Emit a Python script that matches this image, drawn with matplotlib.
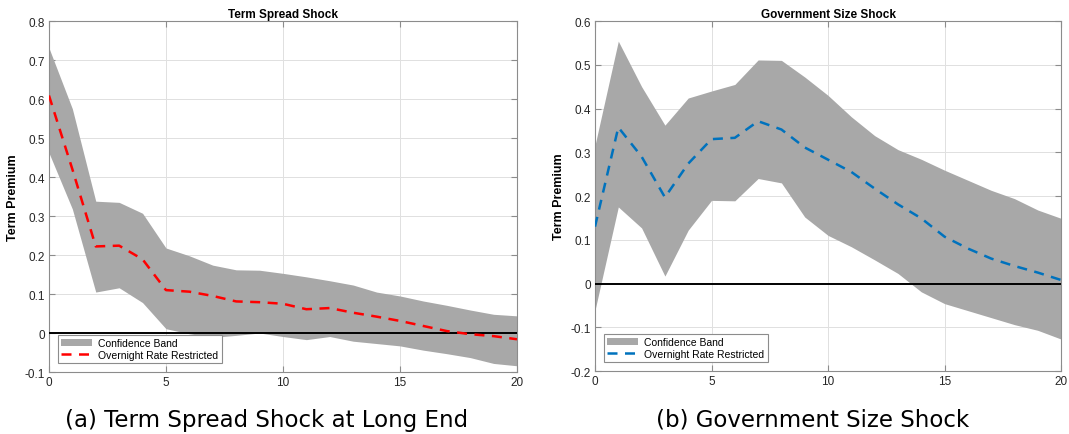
import matplotlib
matplotlib.use("Agg")
import matplotlib.pyplot as plt
import numpy as np

plt.rcParams['font.family'] = ['Liberation Sans', 'DejaVu Sans']

horizon = list(range(21))

# Term spread shock (left panel)
ts_upper = [0.731, 0.575, 0.338, 0.335, 0.307, 0.218, 0.198, 0.174, 0.162, 0.161, 0.153,
            0.144, 0.134, 0.123, 0.105, 0.095, 0.082, 0.071, 0.059, 0.048, 0.044]
ts_lower = [0.462, 0.318, 0.105, 0.116, 0.078, 0.011, -0.002, -0.011, -0.006, 0.0, -0.009,
            -0.017, -0.009, -0.021, -0.027, -0.033, -0.044, -0.053, -0.063, -0.078, -0.084]
ts_mean = [0.609, 0.42, 0.222, 0.224, 0.189, 0.110, 0.106, 0.095, 0.081, 0.079, 0.075,
           0.061, 0.064, 0.052, 0.042, 0.031, 0.018, 0.005, -0.003, -0.008, -0.016]

# Government size shock (right panel)
gs_upper = [0.316, 0.554, 0.450, 0.362, 0.424, 0.440, 0.455, 0.511, 0.510, 0.472, 0.430,
            0.381, 0.338, 0.306, 0.284, 0.259, 0.236, 0.213, 0.194, 0.168, 0.149]
gs_lower = [-0.061, 0.175, 0.127, 0.017, 0.122, 0.190, 0.189, 0.240, 0.230, 0.152, 0.110,
            0.084, 0.054, 0.023, -0.019, -0.046, -0.062, -0.078, -0.094, -0.107, -0.127]
gs_mean = [0.130, 0.357, 0.290, 0.197, 0.274, 0.330, 0.333, 0.371, 0.352, 0.311, 0.283,
           0.255, 0.217, 0.181, 0.149, 0.107, 0.080, 0.057, 0.040, 0.025, 0.008]

band_color = (0.66, 0.66, 0.66)
edge_gray = (0.55, 0.55, 0.55)


def draw_panel(ax, upper, lower, mean, color, title, ylim, yticks):
    ax.fill_between(horizon, lower, upper, color=band_color, linewidth=0,
                    label='Confidence Band', zorder=2)
    ax.plot(horizon, mean, linestyle=(0, (4, 3)), color=color, linewidth=1.8,
            label='Overnight Rate Restricted', zorder=4)
    ax.axhline(0, color='black', linewidth=1.4, zorder=3)
    ax.set_xlim(0, 20)
    ax.set_ylim(*ylim)
    ax.set_xticks([0, 5, 10, 15, 20])
    ax.set_yticks(yticks)
    ax.set_yticklabels([('%g' % v) for v in yticks])
    ax.grid(True, color=(0.88, 0.88, 0.88), linewidth=0.7, zorder=0)
    ax.set_axisbelow(True)
    ax.tick_params(direction='in', top=True, right=True, length=4, labelsize=8.5,
                   color=edge_gray, labelcolor=(0.15, 0.15, 0.15), pad=3)
    for sp in ax.spines.values():
        sp.set_color(edge_gray)
        sp.set_linewidth(0.8)
    ax.set_title(title, fontsize=8.5, fontweight='bold', pad=3)
    ax.set_ylabel('Term Premium', fontsize=9, fontweight='bold', labelpad=4)
    leg = ax.legend(loc='lower left', fontsize=7.5, fancybox=False, framealpha=1,
                    edgecolor=edge_gray, borderpad=0.3, handlelength=3.0,
                    handletextpad=0.6, labelspacing=0.2, borderaxespad=0.85)
    leg.get_frame().set_linewidth(0.8)


fig = plt.figure(figsize=(10.69, 4.35), dpi=100)
ax1 = fig.add_axes([0.0458, 0.1425, 0.4378, 0.8069])
ax2 = fig.add_axes([0.5566, 0.1448, 0.4360, 0.8046])

draw_panel(ax1, ts_upper, ts_lower, ts_mean, 'red', 'Term Spread Shock',
           (-0.1, 0.8), np.round(np.arange(-0.1, 0.81, 0.1), 1))
draw_panel(ax2, gs_upper, gs_lower, gs_mean, (0.0, 0.447, 0.741), 'Government Size Shock',
           (-0.2, 0.6), np.round(np.arange(-0.2, 0.61, 0.1), 1))

fig.text(0.2497, 0.034, '(a) Term Spread Shock at Long End', ha='center', va='center',
         fontsize=16.5, family='DejaVu Sans')
fig.text(0.7601, 0.034, '(b) Government Size Shock', ha='center', va='center',
         fontsize=16.5, family='DejaVu Sans')

fig.savefig('out.png', dpi=100)
